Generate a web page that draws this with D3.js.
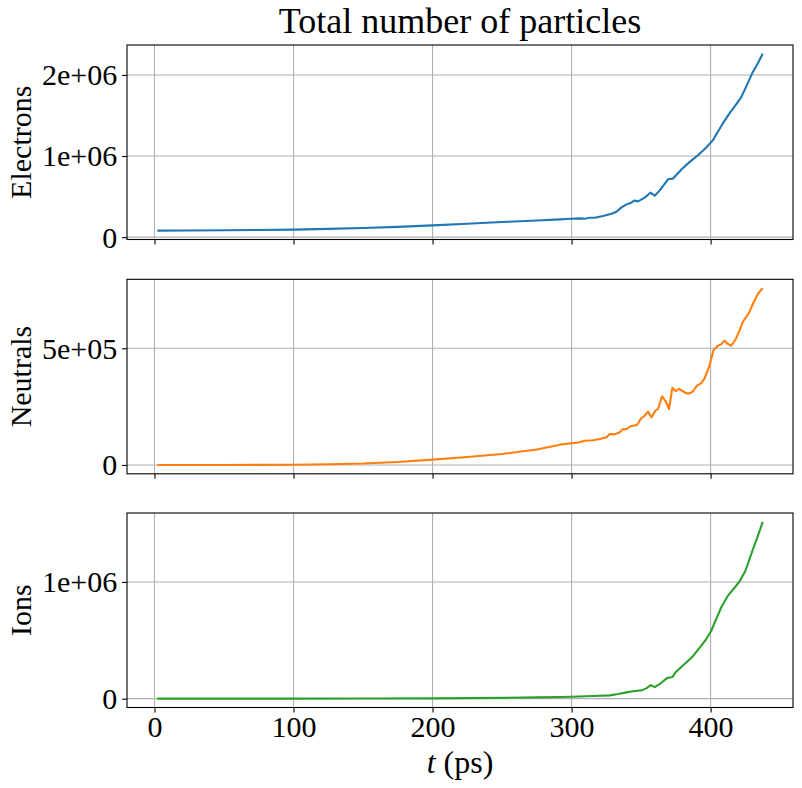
<!DOCTYPE html>
<html>
<head>
<meta charset="utf-8">
<script src="https://cdn.jsdelivr.net/npm/d3@7"></script>
<style>
  body { margin: 0; background: #fff; }
  text { font-family: "Liberation Serif", "Times New Roman", serif; fill: #000; }
</style>
</head>
<body>
<svg id="chart" width="802" height="788"></svg>
<script>
// ── Data ─────────────────────────────────────────────────────────────────────
// [t (ps), number of particles]
const electrons = [
  [2, 80000], [25, 82000], [50, 85000], [75, 88000], [100, 93000], [125, 102000],
  [150, 113000], [175, 127000], [200, 145000], [225, 165000], [250, 186000],
  [275, 205000], [291.6, 219000], [300, 227000], [306, 231000], [309.6, 227000],
  [313, 239000], [316.7, 239000], [322.7, 260000], [328.7, 289000], [332.3, 313000],
  [335.9, 367000], [339.5, 404000], [343, 425000], [345, 450000], [347.8, 441000],
  [352.6, 487000], [356.7, 548000], [359.8, 511000], [363.4, 577000], [369.4, 713000],
  [373, 722000], [379, 833000], [385, 928000], [390.9, 1010000], [396.9, 1105000],
  [401.7, 1196000], [405.2, 1300000], [408.8, 1402000], [413.6, 1526000],
  [417.2, 1608000], [422, 1724000], [425.6, 1856000], [429.9, 2020000],
  [434, 2144000], [437.5, 2260000],
];

const neutrals = [
  [2, 0], [50, 0], [100, 1000], [125, 3000], [150, 6000], [175, 13000], [200, 23000],
  [225, 34000], [250, 47000], [275, 66000], [291.6, 87000], [300, 93000],
  [304.8, 96000], [309.6, 104000], [315.5, 106000], [320.3, 111000], [325.1, 119000],
  [327.5, 133000], [331, 131000], [334.7, 140000], [337, 154000], [339.5, 153000],
  [342.3, 166000], [347.1, 171000], [350.2, 201000], [352.6, 211000], [355, 229000],
  [357.4, 204000], [360.3, 233000], [362.2, 240000], [365.1, 294000], [367.7, 273000],
  [370.1, 240000], [372.5, 331000], [374.9, 316000], [377.3, 326000], [380.1, 316000],
  [382.6, 307000], [385, 307000], [387.4, 316000], [390.2, 340000], [393.4, 351000],
  [395.7, 371000], [399.3, 429000], [402.2, 494000], [405.2, 511000], [407.6, 517000],
  [410, 533000], [412.4, 519000], [414.8, 511000], [417.9, 537000], [420.8, 576000],
  [423.2, 614000], [427.5, 651000], [430.4, 690000], [434, 733000], [437.5, 758000],
];

const ions = [
  [2, 0], [50, 0], [100, 500], [150, 1000], [200, 2500], [250, 7000], [275, 11000],
  [291.6, 14000], [300, 17000], [315.5, 23000], [327.5, 28000], [333.5, 40000],
  [339.5, 54000], [345.4, 65000], [350.2, 71000], [353.8, 88000], [356.9, 116000],
  [359.8, 99000], [364.6, 136000], [368.6, 176000], [372.5, 185000], [374.9, 227000],
  [380.1, 284000], [387.3, 364000], [393.3, 455000], [396.9, 511000], [400.5, 582000],
  [404, 682000], [407.6, 781000], [412.4, 881000], [417.2, 950000], [421, 1008000],
  [425, 1094000], [430.4, 1278000], [434, 1395000], [437.5, 1515000],
];

const xTicks = [0, 100, 200, 300, 400];
const electronTicks = [0, 1e6, 2e6];
const neutralTicks = [0, 5e5];
const ionTicks = [0, 1e6];

const panels = [
  { label: "Electrons", data: electrons, ticks: electronTicks, color: "#1f77b4" },
  { label: "Neutrals", data: neutrals, ticks: neutralTicks, color: "#ff7f0e" },
  { label: "Ions", data: ions, ticks: ionTicks, color: "#2ca02c" },
];

// ── Layout ───────────────────────────────────────────────────────────────────
const left = 127, right = 793;
const panelTops = [45, 279.3, 513];
const panelH = 194.5;
const tickLen = 4.9, tickPad = 4.9;
const gridColor = "#b0b0b0";

const svg = d3.select("#chart");

// matplotlib-style 5% margins
function padded(extent) {
  const s = extent[1] - extent[0];
  return [extent[0] - 0.05 * s, extent[1] + 0.05 * s];
}

// "2e+06" style labels
function sciFormat(v) {
  if (v === 0) return "0";
  const exp = Math.floor(Math.log10(Math.abs(v)));
  const mant = Math.round(v / Math.pow(10, exp));
  return `${mant}e+${String(exp).padStart(2, "0")}`;
}

const allT = panels.flatMap((p) => p.data.map((d) => d[0]));
const x = d3.scaleLinear().domain(padded(d3.extent(allT))).range([left, right]);

// ── Title ────────────────────────────────────────────────────────────────────
svg.append("text")
  .attr("x", (left + right) / 2)
  .attr("y", 33)
  .attr("text-anchor", "middle")
  .attr("font-size", "36px")
  .text("Total number of particles");

// ── Panels ───────────────────────────────────────────────────────────────────
panels.forEach((p, i) => {
  const top = panelTops[i];
  const bottom = top + panelH;
  const y = d3.scaleLinear()
    .domain(padded(d3.extent(p.data, (d) => d[1])))
    .range([bottom, top]);

  const g = svg.append("g");

  // grid
  g.selectAll(".vgrid").data(xTicks).join("line")
    .attr("x1", (d) => x(d)).attr("x2", (d) => x(d))
    .attr("y1", top).attr("y2", bottom)
    .attr("stroke", gridColor).attr("stroke-width", 1.1);
  g.selectAll(".hgrid").data(p.ticks).join("line")
    .attr("x1", left).attr("x2", right)
    .attr("y1", (d) => y(d)).attr("y2", (d) => y(d))
    .attr("stroke", gridColor).attr("stroke-width", 1.1);

  // series line
  const line = d3.line().x((d) => x(d[0])).y((d) => y(d[1]));
  g.append("path")
    .datum(p.data)
    .attr("d", line)
    .attr("fill", "none")
    .attr("stroke", p.color)
    .attr("stroke-width", 2.1)
    .attr("stroke-linejoin", "round")
    .attr("stroke-linecap", "butt");

  // frame
  g.append("rect")
    .attr("x", left).attr("y", top)
    .attr("width", right - left).attr("height", panelH)
    .attr("fill", "none").attr("stroke", "#000").attr("stroke-width", 1.1);

  // y axis
  const yAxis = d3.axisLeft(y)
    .tickValues(p.ticks)
    .tickFormat(sciFormat)
    .tickSize(tickLen)
    .tickPadding(tickPad);
  const ya = g.append("g").attr("transform", `translate(${left},0)`).call(yAxis);
  ya.select(".domain").remove();
  ya.selectAll(".tick line").attr("stroke", "#000").attr("stroke-width", 1.1);
  ya.selectAll(".tick text")
    .attr("font-size", "30px")
    .attr("font-family", "Liberation Serif, serif")
    .attr("dy", "0.33em");

  // x axis (labels only on the bottom panel)
  const xAxis = d3.axisBottom(x)
    .tickValues(xTicks)
    .tickSize(tickLen)
    .tickPadding(tickPad)
    .tickFormat(i === panels.length - 1 ? d3.format("d") : () => "");
  const xa = g.append("g").attr("transform", `translate(0,${bottom})`).call(xAxis);
  xa.select(".domain").remove();
  xa.selectAll(".tick line").attr("stroke", "#000").attr("stroke-width", 1.1);
  xa.selectAll(".tick text")
    .attr("font-size", "30px")
    .attr("font-family", "Liberation Serif, serif")
    .attr("dy", "0.66em");

  // y label
  svg.append("text")
    .attr("transform", `translate(31,${(top + bottom) / 2}) rotate(-90)`)
    .attr("text-anchor", "middle")
    .attr("font-size", "30px")
    .text(p.label);
});

// ── x label ──────────────────────────────────────────────────────────────────
const xl = svg.append("text")
  .attr("x", (left + right) / 2)
  .attr("y", 773)
  .attr("text-anchor", "middle")
  .attr("font-size", "32px");
xl.append("tspan").attr("font-style", "italic").text("t");
xl.append("tspan").text(" (ps)");
</script>
</body>
</html>
